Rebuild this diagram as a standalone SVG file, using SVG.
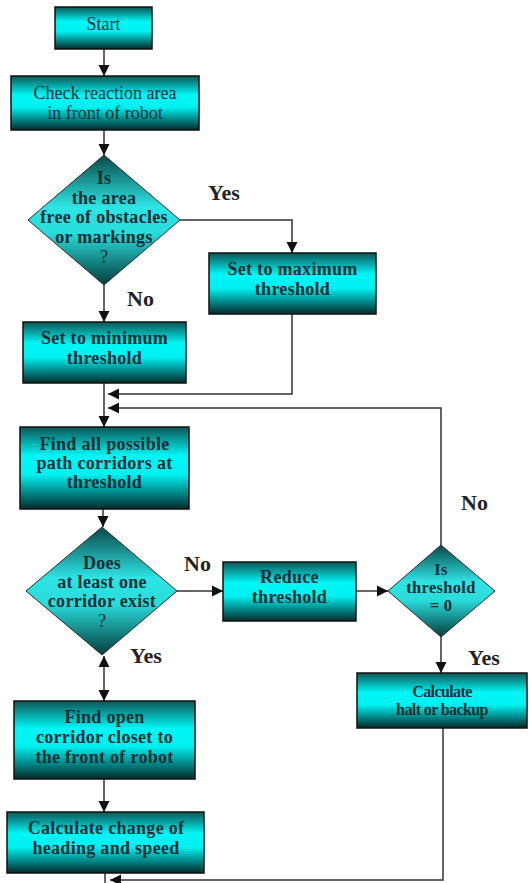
<svg xmlns="http://www.w3.org/2000/svg" width="530" height="883" viewBox="0 0 530 883">
<defs>
<linearGradient id="gBox" x1="0" y1="0" x2="0" y2="1">
<stop offset="0" stop-color="#0d5656"/>
<stop offset="0.35" stop-color="#00f6f6"/>
<stop offset="0.58" stop-color="#00f0f0"/>
<stop offset="1" stop-color="#032a2a"/>
</linearGradient>
<linearGradient id="gDia" x1="0" y1="0" x2="0" y2="1">
<stop offset="0" stop-color="#0a4848"/>
<stop offset="0.4" stop-color="#2ee4e4"/>
<stop offset="0.6" stop-color="#2adcdc"/>
<stop offset="1" stop-color="#053c3c"/>
</linearGradient>
<marker id="ah" markerUnits="userSpaceOnUse" markerWidth="12" markerHeight="12" viewBox="0 0 12 12" refX="11" refY="6" orient="auto-start-reverse">
<path d="M0,0.5 L11,6 L0,11.5 Z" fill="#111"/>
</marker>
</defs>
<style>
.box{fill:url(#gBox);stroke:#111;stroke-width:1.5}
.dia{fill:url(#gDia);stroke:#2a2a2a;stroke-width:1}
.t{font-family:"Liberation Serif","Times New Roman",serif;font-size:18px;fill:#0f2d33;text-anchor:middle}
.b{font-weight:bold;letter-spacing:0.3px}
.lbl{font-family:"Liberation Serif","Times New Roman",serif;font-size:22px;font-weight:bold;fill:#222}
.c{fill:none;stroke:#333;stroke-width:1.5}
.a{marker-end:url(#ah)}
</style>
<g id="connectors">
<path class="c a" d="M104,49 V76"/>
<path class="c a" d="M104,130 V155"/>
<path class="c a" d="M180,220 H292 V253"/>
<path class="c a" d="M104,285 V322"/>
<path class="c a" d="M292,314 V394 H108"/>
<path class="c a" d="M104,383 V427"/>
<path class="c a" d="M441,545 V408 H108"/>
<path class="c a" d="M103,509 V527"/>
<path class="c a" d="M177,591 H223"/>
<path class="c a" d="M356,591 H388"/>
<path class="c a" d="M441,637 V673"/>
<path class="c a" style="marker-start:url(#ah)" d="M104,656 V701"/>
<path class="c a" d="M104,779 V812"/>
<path class="c" d="M105,873 V883"/>
<path class="c a" d="M443,728 V880 H110"/>
</g>
<g id="start"><rect class="box" x="55" y="7" width="97" height="42"/><text class="t" x="103.5" y="30">Start</text></g>
<g id="check"><rect class="box" x="11" y="76" width="188" height="54"/><text class="t" x="105" y="99">Check reaction area</text><text class="t" x="105" y="119">in front of robot</text></g>
<g id="dec1"><polygon class="dia" points="104,155 180,220 104,285 28,220"/>
<text class="t b" x="104" y="184">Is</text><text class="t b" x="104" y="204">the area</text><text class="t b" x="104" y="223">free of obstacles</text><text class="t b" x="104" y="243">or markings</text><text class="t" x="104" y="263">?</text></g>
<g id="setmax"><rect class="box" x="209" y="253" width="167" height="61"/><text class="t b" x="292.5" y="275">Set to maximum</text><text class="t b" x="292.5" y="295">threshold</text></g>
<g id="setmin"><rect class="box" x="23" y="322" width="163" height="61"/><text class="t b" x="104.5" y="344">Set to minimum</text><text class="t b" x="104.5" y="364">threshold</text></g>
<g id="findall"><rect class="box" x="20" y="427" width="169" height="82"/><text class="t b" x="104.5" y="450">Find all possible</text><text class="t b" x="104.5" y="469">path corridors at</text><text class="t b" x="104.5" y="488">threshold</text></g>
<g id="dec2"><polygon class="dia" points="102,527 177,591 102,655 26,591"/>
<text class="t b" x="102" y="569">Does</text><text class="t b" x="102" y="588">at least one</text><text class="t b" x="102" y="607">corridor exist</text><text class="t" x="102" y="627">?</text></g>
<g id="reduce"><rect class="box" x="223" y="562" width="133" height="59"/><text class="t b" x="289.5" y="583">Reduce</text><text class="t b" x="289.5" y="603">threshold</text></g>
<g id="dec3"><polygon class="dia" points="441,545 495,591 441,637 388,591"/>
<text class="t b" style="font-size:16.5px" x="441" y="575">Is</text><text class="t b" style="font-size:16.5px" x="441" y="593">threshold</text><text class="t b" style="font-size:16.5px" x="441" y="611">= 0</text></g>
<g id="halt"><rect class="box" x="357" y="673" width="170" height="55"/><text class="t b" style="font-size:16px;letter-spacing:-0.6px" x="442" y="697">Calculate</text><text class="t b" style="font-size:16px;letter-spacing:-0.6px" x="442" y="715">halt or backup</text></g>
<g id="findopen"><rect class="box" x="14" y="701" width="181" height="78"/><text class="t b" x="104.5" y="723">Find open</text><text class="t b" x="104.5" y="743">corridor closet to</text><text class="t b" x="104.5" y="763">the front of robot</text></g>
<g id="calc"><rect class="box" x="7" y="812" width="197" height="61"/><text class="t b" x="106" y="834">Calculate change of</text><text class="t b" x="106" y="854">heading and speed</text></g>
<g id="labels">
<text class="lbl" x="208" y="200">Yes</text>
<text class="lbl" x="127" y="306">No</text>
<text class="lbl" x="184" y="571">No</text>
<text class="lbl" x="461" y="510">No</text>
<text class="lbl" x="130" y="663">Yes</text>
<text class="lbl" x="468" y="665">Yes</text>
</g>
</svg>
